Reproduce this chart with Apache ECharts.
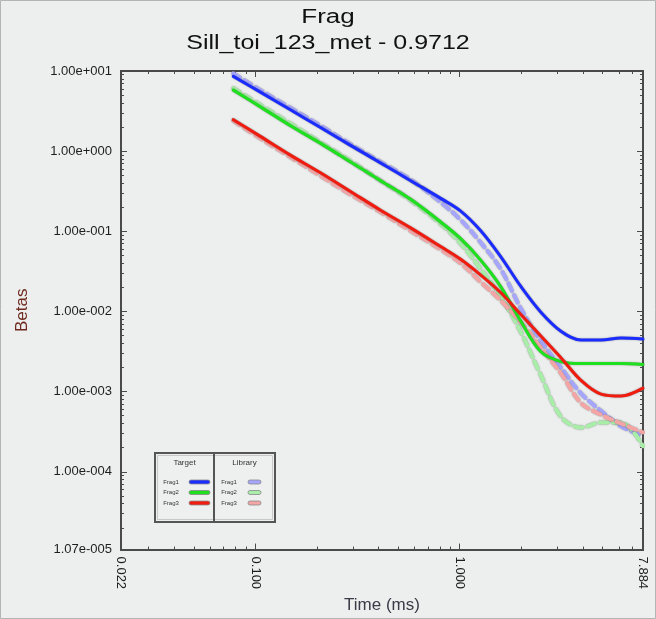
<!DOCTYPE html>
<html><head><meta charset="utf-8">
<script src="https://cdn.jsdelivr.net/npm/echarts@6/dist/echarts.min.js"></script>
<style>html,body{margin:0;padding:0;background:#edefee}#c{width:656px;height:619px}</style>
</head><body><div id="c"></div><script>
// ---- data ----
const titleLine1 = 'Frag';
const titleLine2 = 'Sill_toi_123_met - 0.9712';
const xName = 'Time (ms)';
const yName = 'Betas';
const xMin = 0.022, xMax = 7.884;
const yMin = 1.07e-5, yMax = 10;
const xLabelValues = [0.022, 0.1, 1, 7.884];
const yLabelValues = [1.07e-5, 1e-4, 1e-3, 1e-2, 1e-1, 1, 10];
const xMajorTicks = [0.1, 1];
const xMinorTicks = [0.03, 0.04, 0.05, 0.06, 0.07, 0.08, 0.09, 0.2, 0.3, 0.4, 0.5, 0.6, 0.7, 0.8, 0.9, 2, 3, 4, 5, 6, 7];
const yMajorTicks = [1e-4, 1e-3, 1e-2, 1e-1, 1, 10];
const yMinorTicks = [
  2e-5, 3e-5, 4e-5, 5e-5, 6e-5, 7e-5, 8e-5, 9e-5,
  2e-4, 3e-4, 4e-4, 5e-4, 6e-4, 7e-4, 8e-4, 9e-4,
  2e-3, 3e-3, 4e-3, 5e-3, 6e-3, 7e-3, 8e-3, 9e-3,
  0.02, 0.03, 0.04, 0.05, 0.06, 0.07, 0.08, 0.09,
  0.2, 0.3, 0.4, 0.5, 0.6, 0.7, 0.8, 0.9,
  2, 3, 4, 5, 6, 7, 8, 9];
const seriesNames = ['Frag1', 'Frag2', 'Frag3'];
const xTime = [0.078, 0.1058, 0.1484, 0.2083, 0.2922, 0.4101, 0.5752, 0.807, 1.011, 1.267, 1.589, 1.991, 2.495, 3.127, 3.919, 4.912, 6.155, 7.88];
const targetFrag1 = [8.56, 5.45, 3.28, 1.97, 1.18, 0.713, 0.428, 0.2576, 0.1785, 0.1014, 0.048, 0.0205, 0.0098, 0.00568, 0.00441, 0.00441, 0.00466, 0.00453];
const targetFrag2 = [5.77, 3.57, 2.08, 1.25, 0.733, 0.428, 0.2505, 0.1308, 0.0809, 0.0435, 0.0203, 0.00754, 0.00314, 0.00237, 0.00224, 0.00224, 0.00224, 0.00218];
const targetFrag3 = [2.47, 1.528, 0.893, 0.537, 0.314, 0.1835, 0.1104, 0.0645, 0.0447, 0.0284, 0.0171, 0.00919, 0.00494, 0.00265, 0.001384, 0.000932, 0.000881, 0.001104];
const libraryFrag1 = [9.32, 5.77, 3.47, 2.08, 1.219, 0.733, 0.441, 0.23, 0.1384, 0.0723, 0.0337, 0.01088, 0.00428, 0.002, 0.00095, 0.000575, 0.00037, 0.00028];
const libraryFrag2 = [6.10, 3.77, 2.21, 1.289, 0.754, 0.428, 0.2435, 0.1236, 0.0702, 0.0337, 0.01528, 0.00553, 0.00159, 0.000487, 0.000357, 0.000411, 0.000411, 0.000208];
const libraryFrag3 = [2.40, 1.444, 0.844, 0.493, 0.288, 0.1735, 0.1014, 0.0593, 0.0399, 0.0233, 0.01365, 0.00733, 0.00352, 0.00169, 0.000722, 0.000515, 0.0004, 0.00031];

// ---- styles ----
const targetColors = ['#1a2cff', '#1ee01e', '#f01c10'];
const libraryColors = ['#a6a6ff', '#a8eea8', '#f4a6a6'];
const lineCol = '#4a4a4a';
const FONT = 'Liberation Sans, Arial, sans-serif';
const labelFont = { color: '#1e1e1e', fontSize: 13, fontFamily: FONT };

function expFmt(v) {
  const s = Number(v).toExponential(2);
  const m = s.match(/^(.*)e([+-])(\d+)$/);
  return m[1] + 'e' + m[2] + m[3].padStart(3, '0');
}

function makeX(pos, ticks, len, withLabel) {
  return {
    type: 'log', position: pos, min: xMin, max: xMax,
    axisLine: { show: true, onZero: false, lineStyle: { color: lineCol, width: 2 } },
    axisTick: { show: true, inside: true, length: len, customValues: ticks, lineStyle: { color: lineCol, width: 1 } },
    axisLabel: Object.assign({ show: withLabel, customValues: xLabelValues, rotate: -90, margin: 7,
      formatter: v => Number(v).toFixed(3) }, labelFont),
    splitLine: { show: false },
    name: withLabel ? xName : '', nameLocation: 'middle', nameGap: 40,
    nameTextStyle: { color: '#3a3a48', fontSize: 17, fontFamily: FONT }
  };
}
function makeY(pos, ticks, len, withLabel) {
  return {
    type: 'log', position: pos, min: yMin, max: yMax,
    axisLine: { show: true, onZero: false, lineStyle: { color: lineCol, width: 2 } },
    axisTick: { show: true, inside: true, length: len, customValues: ticks, lineStyle: { color: lineCol, width: 1 } },
    axisLabel: Object.assign({ show: withLabel, customValues: yLabelValues, margin: 9, formatter: expFmt }, labelFont),
    splitLine: { show: false },
    name: withLabel ? yName : '', nameLocation: 'middle', nameGap: 90,
    nameTextStyle: { color: '#6e2a1e', fontSize: 17, fontFamily: FONT }
  };
}

function mk(name, vals, color, lib) {
  return {
    type: 'line', name: name, xAxisIndex: 0, yAxisIndex: 0,
    data: xTime.map((x, i) => [x, vals[i]]),
    showSymbol: false, symbol: 'none', smooth: 0.35, z: lib ? 2 : 3,
    lineStyle: lib
      ? { color: color, width: 4, type: [8, 5], cap: 'round', shadowColor: 'rgba(70,70,70,0.6)', shadowBlur: 1.5 }
      : { color: color, width: 3, cap: 'round', shadowColor: 'rgba(70,70,70,0.6)', shadowBlur: 1.5 },
    emphasis: { disabled: true }
  };
}

const series = [
  mk(seriesNames[0] + ' (Library)', libraryFrag1, libraryColors[0], true),
  mk(seriesNames[1] + ' (Library)', libraryFrag2, libraryColors[1], true),
  mk(seriesNames[2] + ' (Library)', libraryFrag3, libraryColors[2], true),
  mk(seriesNames[0], targetFrag1, targetColors[0], false),
  mk(seriesNames[1], targetFrag2, targetColors[1], false),
  mk(seriesNames[2], targetFrag3, targetColors[2], false)
];

// legend box (graphic)
const LX = 155, LY = 453, LW = 120, LH = 69, DIV = 214;
const legendEls = [
  { type: 'rect', shape: { x: LX, y: LY, width: LW, height: LH }, style: { fill: '#eef0ef', stroke: '#555', lineWidth: 2 } },
  { type: 'rect', shape: { x: LX + 2.5, y: LY + 2.5, width: LW - 5, height: LH - 5 }, style: { fill: 'none', stroke: '#c8c8c8', lineWidth: 1 } },
  { type: 'line', shape: { x1: DIV, y1: LY, x2: DIV, y2: LY + LH }, style: { stroke: '#555', lineWidth: 2 } },
  { type: 'text', x: (LX + DIV) / 2, y: LY + 10, style: { text: 'Target', fill: '#333', font: '8px ' + FONT, align: 'center', verticalAlign: 'middle' } },
  { type: 'text', x: (DIV + LX + LW) / 2, y: LY + 10, style: { text: 'Library', fill: '#333', font: '8px ' + FONT, align: 'center', verticalAlign: 'middle' } }
];
seriesNames.forEach((n, i) => {
  const y = LY + 29 + i * 10.5;
  legendEls.push({ type: 'text', x: LX + 16, y: y, style: { text: n, fill: '#333', font: '6px ' + FONT, align: 'center', verticalAlign: 'middle' } });
  legendEls.push({ type: 'rect', shape: { x: LX + 34, y: y - 2, width: 21, height: 4, r: 2 }, style: { fill: targetColors[i], stroke: '#888', lineWidth: 0.8 } });
  legendEls.push({ type: 'text', x: DIV + 15, y: y, style: { text: n, fill: '#333', font: '6px ' + FONT, align: 'center', verticalAlign: 'middle' } });
  legendEls.push({ type: 'rect', shape: { x: DIV + 34, y: y - 2, width: 13, height: 4, r: 2 }, style: { fill: libraryColors[i], stroke: '#888', lineWidth: 0.8 } });
});

const option = {
  backgroundColor: '#edefee',
  animation: false,
  grid: { left: 121, right: 13, top: 71, bottom: 64, containLabel: false },
  xAxis: [
    makeX('bottom', xMajorTicks, 6, true),
    makeX('bottom', xMinorTicks, 3, false),
    makeX('top', xMajorTicks, 6, false),
    makeX('top', xMinorTicks, 3, false)
  ],
  yAxis: [
    makeY('left', yMajorTicks, 6, true),
    makeY('left', yMinorTicks, 3, false),
    makeY('right', yMajorTicks, 6, false),
    makeY('right', yMinorTicks, 3, false)
  ],
  series: series,
  graphic: [
    { type: 'rect', shape: { x: 0.5, y: 0.5, width: 655, height: 618 }, style: { fill: 'none', stroke: '#b4b4b4', lineWidth: 1 }, z: 100 },
    { type: 'text', x: 328, y: 17, scaleX: 1.3,
      style: { text: titleLine1, fill: '#111', font: '20px ' + FONT, align: 'center', verticalAlign: 'middle' } },
    { type: 'text', x: 328, y: 43, scaleX: 1.25,
      style: { text: titleLine2, fill: '#111', font: '20px ' + FONT, align: 'center', verticalAlign: 'middle' } },
    { type: 'group', children: legendEls, z: 100 }
  ]
};
const chart = echarts.init(document.getElementById('c'), null, { renderer: 'canvas' });
chart.setOption(option);
</script></body></html>
